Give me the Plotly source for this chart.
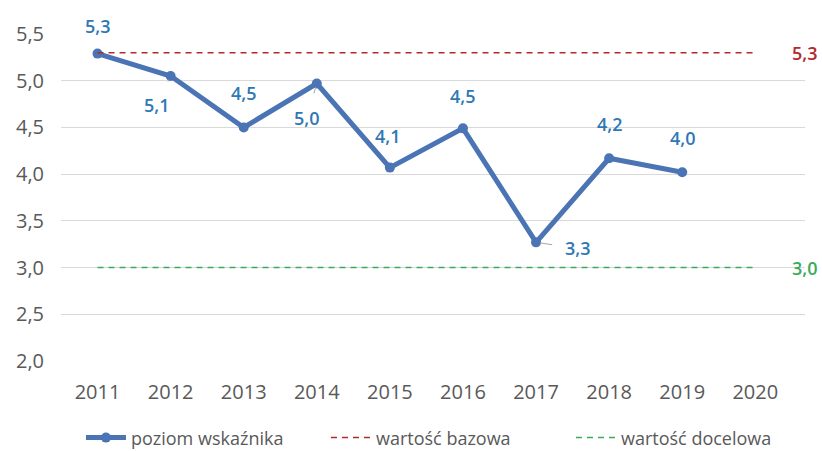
import plotly.graph_objects as go

years = [2011, 2012, 2013, 2014, 2015, 2016, 2017, 2018, 2019, 2020]
level_years = [2011, 2012, 2013, 2014, 2015, 2016, 2017, 2018, 2019]
level = [5.29, 5.05, 4.50, 4.97, 4.07, 4.49, 3.27, 4.17, 4.02]
level_labels = ["5,3", "5,1", "4,5", "5,0", "4,1", "4,5", "3,3", "4,2", "4,0"]
base_value = 5.3
target_value = 3.0
base = [base_value] * len(years)
target = [target_value] * len(years)

# label offsets (px, screen coords: +y is down) relative to each point, and leader line flag
offsets = [(0, -28, False), (-14, 29, True), (0, -34, False), (-10, 34, True), (-2, -32, False),
           (0, -32, False), (41, 6, True), (0, -34, False), (0, -34, False)]

BLUE = "#4A74B4"
LABEL_BLUE = "#2F78B5"
RED = "#B22A2E"
GREEN = "#3BAA5C"
GRAY = "#595959"
FONT = "Open Sans"

fig = go.Figure()
fig.add_trace(go.Scatter(x=level_years, y=level, mode="lines+markers", name="poziom wskaźnika",
                         line=dict(color=BLUE, width=5), marker=dict(size=10, color=BLUE)))
fig.add_trace(go.Scatter(x=years, y=base, mode="lines", name="wartość bazowa",
                         line=dict(color=RED, width=1.5, dash="6px,5px")))
fig.add_trace(go.Scatter(x=years, y=target, mode="lines", name="wartość docelowa",
                         line=dict(color=GREEN, width=1.5, dash="6px,5px")))

lab_font = dict(family=FONT, size=18, color=LABEL_BLUE, weight=600)
annotations = []
for x, y, lab, (dx, dy, lead) in zip(level_years, level, level_labels, offsets):
    if lead:
        annotations.append(dict(x=x, y=y, xref="x", yref="y", text=lab, showarrow=True,
                                ax=dx, ay=dy, arrowhead=0, arrowwidth=1, arrowcolor="#A6A6A6",
                                standoff=4, startstandoff=11, font=lab_font))
    else:
        annotations.append(dict(x=x, y=y, xref="x", yref="y", text=lab, showarrow=False,
                                xshift=dx, yshift=-dy, font=lab_font))

annotations.append(dict(x=years[-1], y=base_value, xref="x", yref="y", text="5,3", showarrow=False,
                        xshift=49, font=dict(family=FONT, size=18, color=RED, weight=600)))
annotations.append(dict(x=years[-1], y=target_value, xref="x", yref="y", text="3,0", showarrow=False,
                        xshift=49, font=dict(family=FONT, size=18, color=GREEN, weight=600)))

fig.update_layout(
    width=822, height=451,
    margin=dict(l=61, r=17, t=34, b=90),
    paper_bgcolor="white", plot_bgcolor="white",
    separators=", ",
    font=dict(family=FONT, size=20, color=GRAY),
    showlegend=True,
    legend=dict(orientation="h", xref="container", yref="container",
                x=0.0985, xanchor="left", y=0.029, yanchor="middle",
                font=dict(family=FONT, size=18, color=GRAY), itemwidth=40,
                entrywidth=190, traceorder="normal"),
    annotations=annotations,
    xaxis=dict(range=[2010.5, 2020.68], tickvals=years, ticktext=[str(y) for y in years],
               showgrid=False, zeroline=False, showline=False, ticks="", automargin=False,
               ticklabelstandoff=17,
               tickfont=dict(family=FONT, size=20, color=GRAY)),
    yaxis=dict(range=[2.0, 5.5], dtick=0.5, tickformat=".1f", showgrid=True,
               gridcolor="#D9D9D9", gridwidth=1, zeroline=False, showline=False, ticks="",
               ticklabelstandoff=16, automargin=False,
               tickfont=dict(family=FONT, size=20, color=GRAY)),
)

# remove the browser's default 8px body margin so the figure fills the window exactly
fig.write_html("out.html", config={"displayModeBar": False},
               post_script="document.body.style.margin='0';")
